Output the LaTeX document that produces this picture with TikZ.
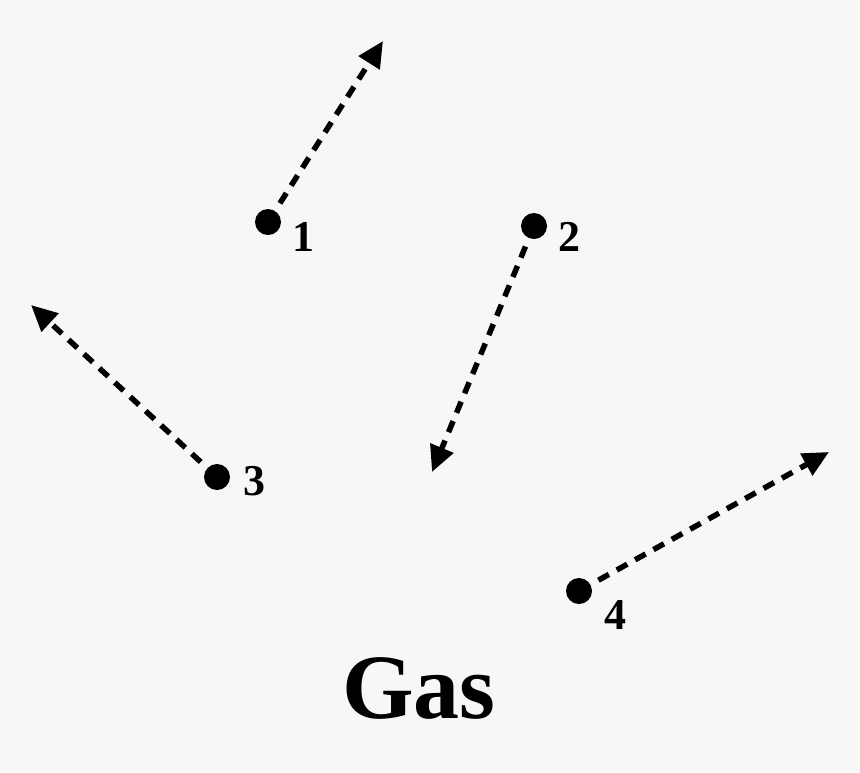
\documentclass[tikz,border=0pt]{standalone}
\usepackage{fontspec}
\setmainfont{Liberation Serif}
\usetikzlibrary{arrows.meta}
\definecolor{bg}{HTML}{F7F7F7}
\tikzset{
  particle/.style={circle, fill=black, minimum size=26pt, inner sep=0pt},
  numlabel/.style={font=\fontsize{44}{48}\selectfont\bfseries, inner sep=0pt},
  velocity/.style={line width=5.5pt, dash pattern=on 12pt off 9pt, shorten <=9pt,
    -{Triangle[length=26pt,width=24pt]}}
}
\begin{document}
\begin{tikzpicture}[x=1pt,y=-1pt]
\fill[bg] (0,0) rectangle (860,772);
\useasboundingbox (0,0) rectangle (860,772);
% particles
\node[particle] (p1) at (268,222) {};
\node[particle] (p2) at (534,226) {};
\node[particle] (p3) at (217,477) {};
\node[particle] (p4) at (579,591) {};
% labels
\node[numlabel] (l1) at (303,237) {1};
\node[numlabel] (l2) at (569,237) {2};
\node[numlabel] (l3) at (254,481) {3};
\node[numlabel] (l4) at (615,615) {4};
% arrow tips
\coordinate (t1) at (383,41);
\coordinate (t2) at (432,472);
\coordinate (t3) at (31,305);
\coordinate (t4) at (829,452);
\draw[velocity] (p1) -- (t1);
\draw[velocity] (p2) -- (t2);
\draw[velocity] (p3) -- (t3);
\draw[velocity] (p4) -- (t4);
% title
\node[font=\fontsize{92}{96}\selectfont\bfseries, inner sep=0pt] (gas) at (419,688) {Gas};
\end{tikzpicture}
\end{document}
